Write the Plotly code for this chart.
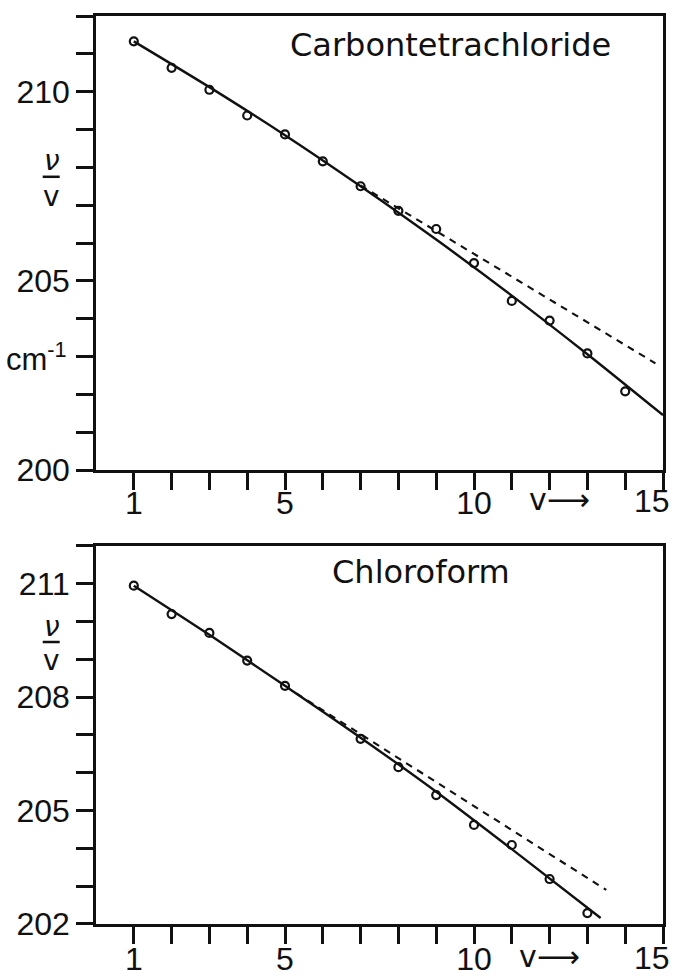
import plotly.graph_objects as go

# ---- data ----
v_ccl4 = [1, 2, 3, 4, 5, 6, 7, 8, 9, 10, 11, 12, 13, 14]
nu_ccl4 = [211.33, 210.63, 210.05, 209.37, 208.87, 208.16, 207.5, 206.85,
           206.37, 205.47, 204.47, 203.95, 203.08, 202.08]
fit_x_ccl4 = [1, 3, 5, 7, 9, 11, 13, 15]
fit_y_ccl4 = [211.33, 210.12, 208.85, 207.5, 206.09, 204.61, 203.06, 201.45]
lin_x_ccl4 = [7, 14.8]
lin_y_ccl4 = [207.52, 202.82]

v_chcl3 = [1, 2, 3, 4, 5, 7, 8, 9, 10, 11, 12, 13]
nu_chcl3 = [210.95, 210.2, 209.7, 208.97, 208.3, 206.9, 206.15, 205.41,
            204.62, 204.09, 203.19, 202.29]
fit_x_chcl3 = [1, 3, 5, 7, 9, 11, 13.35]
fit_y_chcl3 = [210.95, 209.65, 208.3, 206.93, 205.5, 203.98, 202.16]
lin_x_chcl3 = [5.3, 13.5]
lin_y_chcl3 = [208.1, 202.9]

x_tickvals = list(range(1, 16))
x_ticktext = ["1", "", "", "", "5", "", "", "", "", "10", "", "", "", "", ""]
y1_tickvals = list(range(200, 213))
y1_ticktext = ["200", "", "", "", "", "205", "", "", "", "", "210", "", ""]
y2_tickvals = list(range(202, 213))
y2_ticktext = ["202", "", "", "205", "", "", "208", "", "", "211", ""]

BLACK = "#111111"
NUMFONT = dict(family="Liberation Sans, Arial, sans-serif", size=32, color=BLACK)
TXTFONT = dict(family="DejaVu Sans, sans-serif", size=32, color=BLACK)

fig = go.Figure()

def add_panel(xs, ys, fx, fy, lx, ly, xa, ya):
    fig.add_trace(go.Scatter(x=fx, y=fy, mode="lines", xaxis=xa, yaxis=ya,
                             line=dict(color=BLACK, width=2.4, shape="spline", smoothing=0.8),
                             showlegend=False, hoverinfo="skip"))
    fig.add_trace(go.Scatter(x=lx, y=ly, mode="lines", xaxis=xa, yaxis=ya,
                             line=dict(color=BLACK, width=2.1, dash="7px,6px"),
                             showlegend=False, hoverinfo="skip"))
    fig.add_trace(go.Scatter(x=xs, y=ys, mode="markers", xaxis=xa, yaxis=ya,
                             marker=dict(symbol="circle-open", size=8,
                                         color=BLACK, line=dict(width=2.2, color=BLACK)),
                             showlegend=False))

add_panel(v_ccl4, nu_ccl4, fit_x_ccl4, fit_y_ccl4, lin_x_ccl4, lin_y_ccl4, "x", "y")
add_panel(v_chcl3, nu_chcl3, fit_x_chcl3, fit_y_chcl3, lin_x_chcl3, lin_y_chcl3, "x2", "y2")

axis_common = dict(showline=True, linecolor=BLACK, linewidth=2.5, mirror=True,
                   ticks="outside", ticklen=17, tickwidth=2.5, tickcolor=BLACK,
                   showgrid=False, zeroline=False, tickfont=NUMFONT, automargin=False)

fig.update_layout(
    template="none",
    width=673, height=979,
    margin=dict(l=96, r=10, t=16, b=55, autoexpand=False),
    paper_bgcolor="white", plot_bgcolor="white",
    xaxis=dict(axis_common, range=[0, 15], tickvals=x_tickvals, ticktext=x_ticktext,
               anchor="y", domain=[0, 1], ticklabelstandoff=-14),
    yaxis=dict(axis_common, range=[200, 212], tickvals=y1_tickvals, ticktext=y1_ticktext,
               anchor="x", domain=[0.5, 1]),
    xaxis2=dict(axis_common, range=[0, 15], tickvals=x_tickvals, ticktext=x_ticktext,
                anchor="y2", domain=[0, 1], ticklabelstandoff=-12),
    yaxis2=dict(axis_common, range=[202, 212], tickvals=y2_tickvals, ticktext=y2_ticktext,
                anchor="x2", domain=[0, 0.4163]),
)

ann = []
# panel titles
ann.append(dict(text="Carbontetrachloride", x=9.37, y=211.24, xref="x", yref="y",
                showarrow=False, font=TXTFONT, xanchor="center", yanchor="middle"))
ann.append(dict(text="Chloroform", x=8.6, y=211.31, xref="x2", yref="y2",
                showarrow=False, font=TXTFONT, xanchor="center", yanchor="middle"))
# "15" labels at the right end (kept inside the page) and v -> labels
for yr, xr, yshift, xv in [("y domain", "x", -31, 12.25), ("y2 domain", "x2", -34, 12.0)]:
    ann.append(dict(text="15", x=15, y=0, xref=xr, yref=yr, yshift=yshift, xshift=9,
                    showarrow=False, font=NUMFONT, xanchor="right", yanchor="middle"))
    ann.append(dict(text="v⟶", x=xv, y=0, xref=xr, yref=yr, yshift=yshift + 2,
                    showarrow=False, font=dict(TXTFONT, size=30), yanchor="middle"))
# nu / v labels
for xr, yr, ynu, yv in [("x domain", "y", 208.18, 207.24), ("x2 domain", "y2", 209.88, 208.98)]:
    ann.append(dict(text="<i>ν</i>", x=-0.078, y=ynu, xref=xr, yref=yr, showarrow=False,
                    font=dict(TXTFONT, size=28), xanchor="center", yanchor="middle"))
    ann.append(dict(text="v", x=-0.078, y=yv, xref=xr, yref=yr, showarrow=False,
                    font=dict(TXTFONT, size=28), xanchor="center", yanchor="middle"))
# cm^-1
ann.append(dict(text="cm<sup>-1</sup>", x=-0.105, y=203, xref="x domain", yref="y",
                showarrow=False, font=dict(NUMFONT, size=31), xanchor="center", yanchor="middle"))
fig.update_layout(annotations=ann)

# fraction bars for nu/v
fig.add_shape(type="line", xref="x domain", yref="y", x0=-0.094, x1=-0.064,
              y0=207.75, y1=207.75, line=dict(color=BLACK, width=2.5))
fig.add_shape(type="line", xref="x2 domain", yref="y2", x0=-0.094, x1=-0.064,
              y0=209.46, y1=209.46, line=dict(color=BLACK, width=2.5))

fig.write_html("out.html")
